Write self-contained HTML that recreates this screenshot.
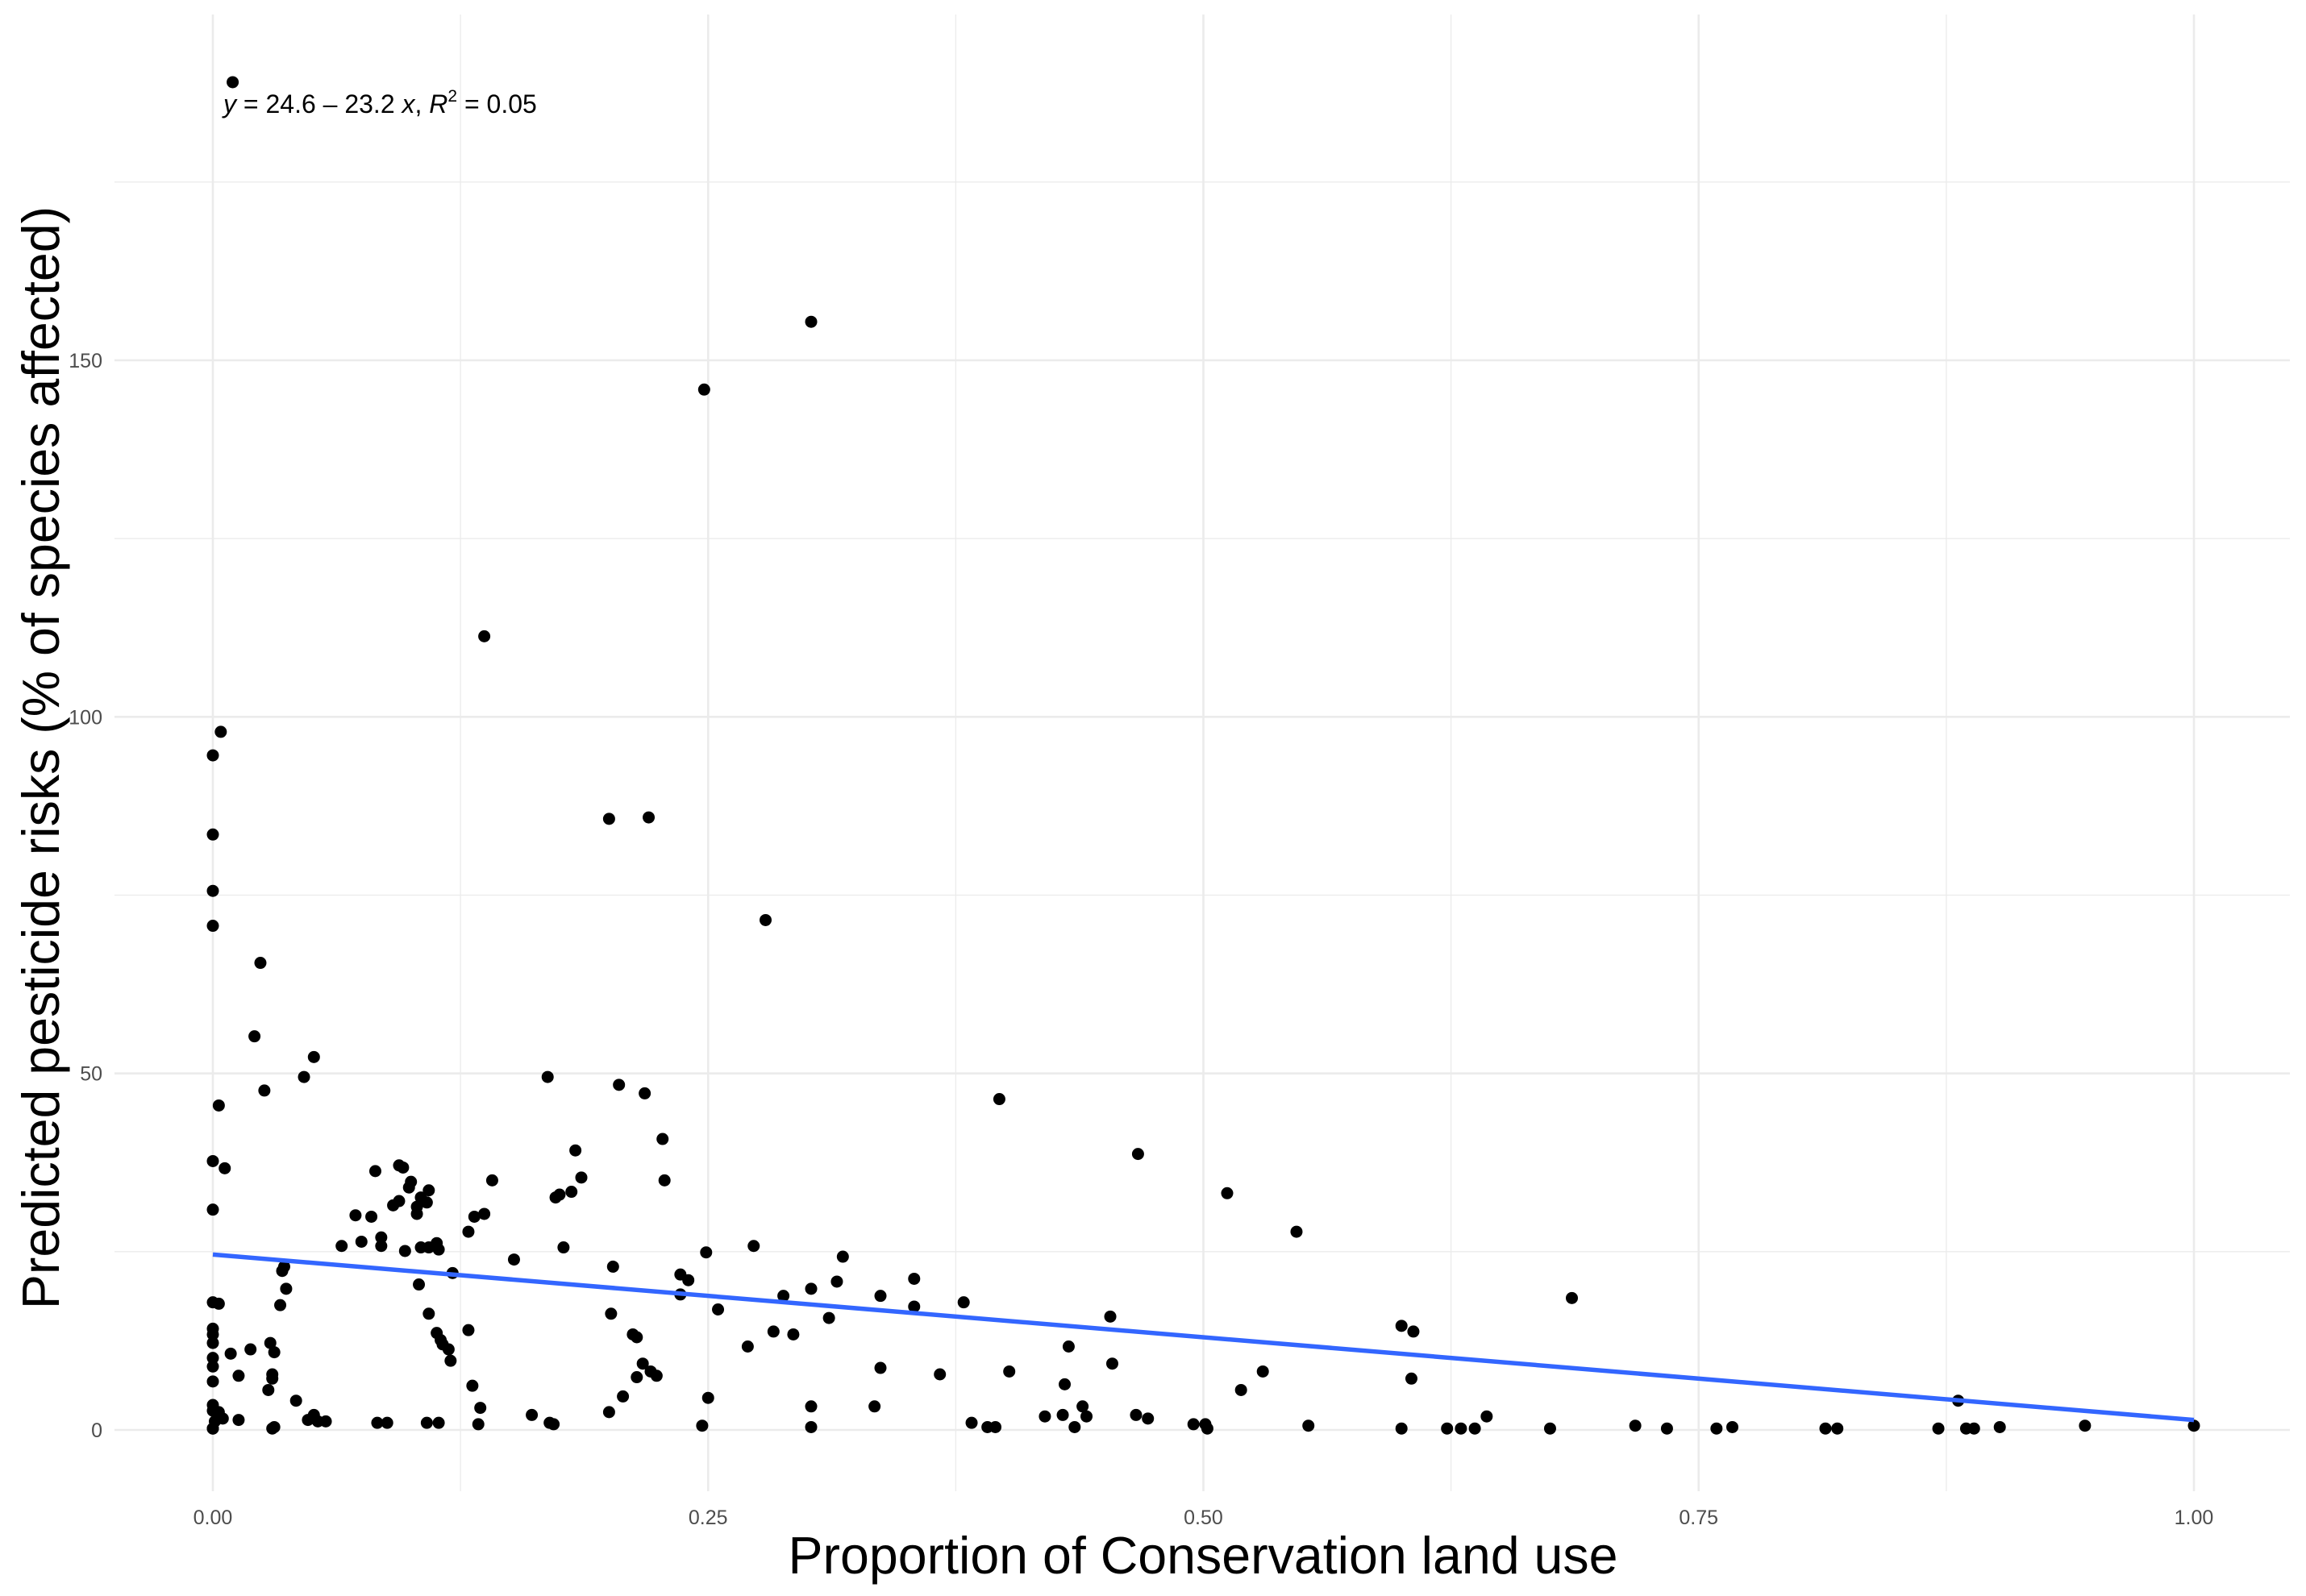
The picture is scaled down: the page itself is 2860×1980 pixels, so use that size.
<!DOCTYPE html>
<html><head><meta charset="utf-8"><style>
html,body{margin:0;padding:0;background:#fff;}
svg{display:block;font-family:"Liberation Sans",Arial,sans-serif;}
</style></head><body>
<svg id="chart" width="2860" height="1980" viewBox="0 0 2860 1980" xmlns="http://www.w3.org/2000/svg">
<rect width="2860" height="1980" fill="#fff"/>
<g id="grid"></g>
<g id="yticks"></g>
<g id="xticks"></g>
<g id="points"></g>
<g id="fit"></g>
<text x="277" y="140" font-size="32" fill="#000"><tspan font-style="italic">y</tspan> = 24.6 – 23.2 <tspan font-style="italic">x</tspan>, <tspan font-style="italic">R</tspan><tspan font-size="21" dy="-14">2</tspan><tspan dy="14"> = 0.05</tspan></text>
<text x="1492" y="1952" font-size="64.5" text-anchor="middle" fill="#000">Proportion of Conservation land use</text>
<text transform="translate(73,940) rotate(-90)" font-size="64.5" text-anchor="middle" fill="#000">Predicted pesticide risks (% of species affected)</text>
</svg>
<script>
const xTicks=[0,0.25,0.5,0.75,1];
const xTickLabels=["0.00","0.25","0.50","0.75","1.00"];
const yTicks=[0,50,100,150];
const yTickLabels=["0","50","100","150"];
const fitIntercept=24.6;
const fitSlope=-23.2;
const xs=[0.010,0.302,0.248,0.137,0.004,0,0,0,0,0.200,0.220,0.279,0.024,0.021,0.051,0.026,0.046,0.003,0.169,0.205,0.218,0.397,0.227,0.467,0.183,0,0.006,0.082,0.094,0.096,0.186,0.141,0.228,0.1,0.099,0.109,0.181,0.175,0.173,0.094,0.105,0.512,0.091,0.103,0,0.108,0.072,0.080,0.132,0.137,0.103,0.547,0.129,0.065,0.075,0.085,0.085,0.105,0.109,0.113,0.114,0.097,0.177,0.249,0.273,0.318,0.152,0.202,0.036,0.035,0.121,0.236,0.240,0.354,0.315,0.104,0.037,0.302,0.288,0.236,0.686,0.337,0.379,0,0.003,0.034,0.354,0.255,0.201,0.109,0.453,0.311,0.600,0.606,0.129,0.283,0.293,0.212,0.113,0.214,0,0,0.115,0.029,0,0.270,0.432,0.116,0.019,0.031,0.009,0.119,0,0.120,0.454,0.217,0.337,0.402,0.530,0.221,0,0.030,0.367,0.224,0.013,0.214,0.030,0.605,0,0.131,0.430,0.028,0.519,0.207,0.042,0.250,0.881,0.334,0.302,0.439,0,0.135,0,0.003,0.200,0.429,0.420,0.161,0.466,0.643,0.441,0.051,0.005,0.472,0.013,0.048,0.053,0.057,0.383,0.001,0.170,0.083,0.088,0.108,0.114,0.134,0.172,0.495,0.501,0.553,0.718,0.945,1.0,0.902,0.031,0.247,0.302,0.391,0.395,0.435,0.502,0.734,0.759,0.767,0.814,0.820,0.871,0.885,0.889,0.600,0.623,0.630,0.637,0.675,0.030,0,0];
const ys=[189,155.4,145.9,111.3,97.9,94.6,83.5,75.6,70.7,85.7,85.9,71.5,65.5,55.2,52.3,47.6,49.5,45.5,49.5,48.4,47.2,46.4,40.8,38.7,39.2,37.7,36.7,36.3,37.1,36.8,35.4,35.0,35.0,34.8,34.0,33.6,33.4,33.0,32.6,32.1,32.6,33.2,31.5,31.3,30.9,31.9,30.1,29.9,29.9,30.3,30.3,27.8,27.8,25.8,26.4,27.0,25.8,25.6,25.6,26.2,25.3,25.1,25.6,24.9,25.8,24.3,23.9,22.9,22.9,22.3,22.0,21.8,21.0,21.2,20.8,20.4,19.8,19.8,18.8,19.0,18.5,18.8,17.9,17.9,17.7,17.5,17.3,16.9,16.3,16.3,15.9,15.7,14.6,13.8,14.0,13.8,13.4,13.4,13.6,13.0,14.2,13.4,12.6,12.2,12.2,11.7,11.7,12.0,11.3,10.9,10.7,11.3,10.1,9.7,9.3,9.3,8.7,8.2,8.2,8.2,8.9,7.8,7.8,7.6,7.6,7.4,7.2,7.2,6.8,6.2,6.4,5.6,5.6,4.7,4.1,4.5,4.1,3.3,3.3,3.3,3.5,3.1,2.7,2.5,2.5,2.1,1.9,2.1,2.1,1.9,1.9,2.1,1.6,1.6,1.4,1.4,1.2,1.2,1.0,1.2,1.0,1.0,1.0,1.0,1.0,0.8,0.8,0.8,0.8,0.6,0.6,0.6,0.6,0.4,0.4,0.6,0.4,0.4,0.4,0.4,0.2,0.2,0.2,0.4,0.2,0.2,0.2,0.2,0.2,0.2,0.2,0.2,0.2,0.2,0.2,0.2,0.2,1.4];

const X0=264,X1=2721,Y0=1774,Y150=447;
function sx(v){return X0+(X1-X0)*v;}
function sy(v){return Y0-(Y0-Y150)*v/150;}
const NS="http://www.w3.org/2000/svg";
function mk(tag,attrs,parent){const e=document.createElementNS(NS,tag);for(const k in attrs)e.setAttribute(k,attrs[k]);parent.appendChild(e);return e;}
const grid=document.getElementById('grid');
const PL=142,PR=2840,PT=18,PB=1850;
for(let i=0;i<xTicks.length-1;i++){
  const v=(xTicks[i]+xTicks[i+1])/2;
  const l=mk('line',{x1:sx(v),x2:sx(v),y1:PT,y2:PB,stroke:'#ebebeb','stroke-width':1.3},grid);
  
  
}
for(let i=0;i<yTicks.length;i++){
  const v=yTicks[i]+25;
  const l=mk('line',{x1:PL,x2:PR,y1:sy(v),y2:sy(v),stroke:'#ebebeb','stroke-width':1.3},grid);
  
  
}
xTicks.forEach((v,i)=>{
  const l=mk('line',{x1:sx(v),x2:sx(v),y1:PT,y2:PB,stroke:'#ebebeb','stroke-width':2.6},grid);
  
  
  const t=mk('text',{x:sx(v),y:1891,'font-size':25,'text-anchor':'middle',fill:'#4d4d4d'},document.getElementById('xticks'));
  t.textContent=xTickLabels[i];
  
  
});
yTicks.forEach((v,i)=>{
  const l=mk('line',{x1:PL,x2:PR,y1:sy(v),y2:sy(v),stroke:'#ebebeb','stroke-width':2.6},grid);
  
  
  const t=mk('text',{x:127,y:sy(v)+9,'font-size':25,'text-anchor':'end',fill:'#4d4d4d'},document.getElementById('yticks'));
  t.textContent=yTickLabels[i];
  
  
});
const pts=document.getElementById('points');
xs.forEach((x,i)=>{
  const c=mk('circle',{cx:sx(x),cy:sy(ys[i]),r:7.5,fill:'#000'},pts);
  
  
});
const fl=mk('line',{x1:sx(0),y1:sy(fitIntercept),x2:sx(1),y2:sy(fitIntercept+fitSlope),stroke:'#3366FF','stroke-width':5.5},document.getElementById('fit'));


</script>
</body></html>
